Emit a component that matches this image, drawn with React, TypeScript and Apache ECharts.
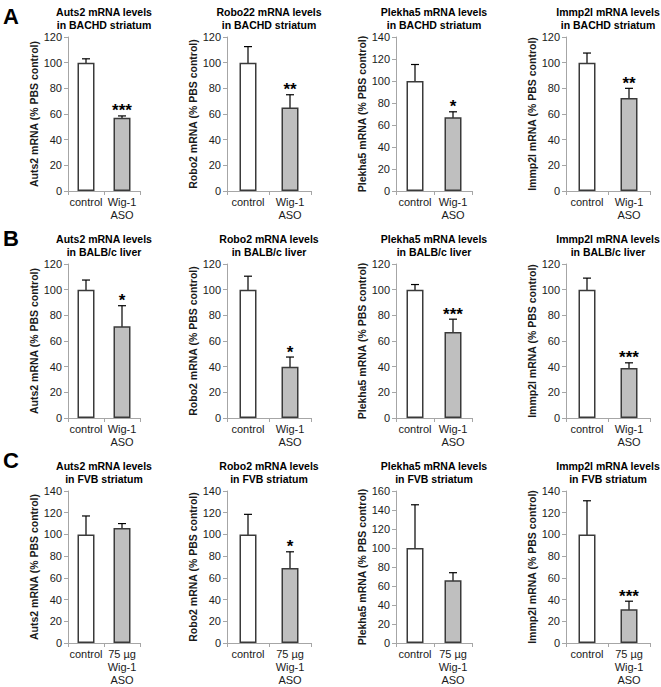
import React, { useEffect, useRef } from "react";
import * as echarts from "echarts";

const genes = ["Auts2", "Robo2", "Plekha5", "Immp2l"];
const titleGenes = ["Auts2", "Robo22", "Plekha5", "Immp2l", "Auts2", "Robo2", "Plekha5", "Immp2l", "Auts2", "Robo2", "Plekha5", "Immp2l"];
const tissues = ["in BACHD striatum", "in BALB/c liver", "in FVB striatum"];
const rowLetters = ["A", "B", "C"];
const categoriesAB = ["control", "Wig-1\nASO"];
const categoriesC = ["control", "75 µg\nWig-1\nASO"];

const yMax = [120, 120, 140, 120, 120, 120, 120, 120, 140, 140, 160, 140];
const controlMean = [100, 100, 100, 100, 100, 100, 100, 100, 100, 100, 100, 100];
const controlErr = [3, 12.5, 15, 7.5, 7.5, 10.5, 4, 9, 17, 18.5, 45.5, 31];
const asoMean = [57, 65, 67, 72.5, 71.5, 40, 67, 39, 106, 69, 66, 31];
const asoErr = [1.5, 10, 5, 7.5, 16, 7.5, 10, 4, 4, 15, 8, 7.5];
const stars = ["***", "**", "*", "**", "*", "*", "***", "***", "", "*", "", "***"];

const colLeft = [68, 227, 396, 566];
const colWidth = [72, 84, 76, 84];
const rowTop = [37, 264, 491];
const rowBottom = [191, 418, 643];
const letterY = [16, 238, 460];

export default function App() {
  const ref = useRef<HTMLDivElement>(null);
  useEffect(() => {
    if (!ref.current) return;
    const chart = echarts.init(ref.current, null, { renderer: "svg" });
    const grid: any[] = [];
    const xAxis: any[] = [];
    const yAxis: any[] = [];
    const series: any[] = [];
    const graphic: any[] = [];
    const font = "Liberation Sans, Arial, sans-serif";
    for (let i = 0; i < 12; i++) {
      const r = Math.floor(i / 4);
      const c = i % 4;
      const left = colLeft[c];
      const width = colWidth[c];
      grid.push({ left, top: rowTop[r], width, height: rowBottom[r] - rowTop[r] });
      xAxis.push({
        type: "category",
        gridIndex: i,
        data: r === 2 ? categoriesC : categoriesAB,
        axisLine: { lineStyle: { color: "#a6a6a6", width: 1 } },
        axisTick: { show: true, length: 4, lineStyle: { color: "#a6a6a6" } },
        axisLabel: { fontSize: 11, color: "#1a1a1a", fontFamily: font, margin: 4, lineHeight: 13, interval: 0 },
      });
      yAxis.push({
        type: "value",
        gridIndex: i,
        min: 0,
        max: yMax[i],
        interval: 20,
        name: genes[c] + " mRNA (% PBS control)",
        nameLocation: "middle",
        nameGap: 29,
        nameTextStyle: { fontSize: 10.5, fontWeight: "bold", color: "#1a1a1a", fontFamily: font },
        axisLine: { show: true, lineStyle: { color: "#a6a6a6", width: 1 } },
        axisTick: { show: true, length: 4, lineStyle: { color: "#a6a6a6" } },
        splitLine: { show: false },
        axisLabel: { fontSize: 11, color: "#1a1a1a", fontFamily: font, margin: 6 },
      });
      series.push({
        type: "bar",
        xAxisIndex: i,
        yAxisIndex: i,
        barWidth: 17,
        data: [
          { value: controlMean[i], itemStyle: { color: "#ffffff" } },
          { value: asoMean[i], itemStyle: { color: "#bfbfbf" } },
        ],
        itemStyle: { borderColor: "#3a3a3a", borderWidth: 1.5 },
      });
      series.push({
        type: "custom",
        xAxisIndex: i,
        yAxisIndex: i,
        data: [
          [0, controlMean[i], controlErr[i], ""],
          [1, asoMean[i], asoErr[i], stars[i]],
        ],
        renderItem: (params: any, api: any) => {
          const x = api.value(0);
          const m = api.value(1);
          const e = api.value(2);
          const s = api.value(3);
          const top = api.coord([x, m + e]);
          const bot = api.coord([x, m - e]);
          const cw = 4;
          const style = { stroke: "#000", lineWidth: 1.2 };
          const children: any[] = [
            { type: "line", shape: { x1: top[0], y1: top[1], x2: bot[0], y2: bot[1] }, style },
            { type: "line", shape: { x1: top[0] - cw, y1: top[1], x2: top[0] + cw, y2: top[1] }, style },
            { type: "line", shape: { x1: bot[0] - cw, y1: bot[1], x2: bot[0] + cw, y2: bot[1] }, style },
          ];
          if (s) {
            children.push({
              type: "text",
              style: {
                text: s,
                x: top[0],
                y: top[1] - 5,
                align: "center",
                verticalAlign: "middle",
                fontSize: 17,
                fontWeight: "bold",
                fontFamily: font,
                fill: "#000",
              },
            });
          }
          return { type: "group", children };
        },
      });
      graphic.push({
        type: "text",
        x: left + width / 2,
        y: rowTop[r] - 31,
        style: {
          text: titleGenes[i] + " mRNA levels\n" + tissues[r],
          align: "center",
          verticalAlign: "top",
          fontSize: 10.5,
          fontWeight: "bold",
          lineHeight: 12.5,
          fontFamily: font,
          fill: "#000",
        },
      });
    }
    for (let r = 0; r < 3; r++) {
      graphic.push({
        type: "text",
        x: 3,
        y: letterY[r],
        style: {
          text: rowLetters[r],
          align: "left",
          verticalAlign: "middle",
          fontSize: 22,
          fontWeight: "bold",
          fontFamily: font,
          fill: "#000",
        },
      });
    }
    chart.setOption({
      animation: false,
      backgroundColor: "#ffffff",
      grid,
      xAxis,
      yAxis,
      series,
      graphic,
    });
    return () => chart.dispose();
  }, []);
  return <div ref={ref} style={{ position: "fixed", left: 0, top: 0, width: 661, height: 687 }} />;
}
